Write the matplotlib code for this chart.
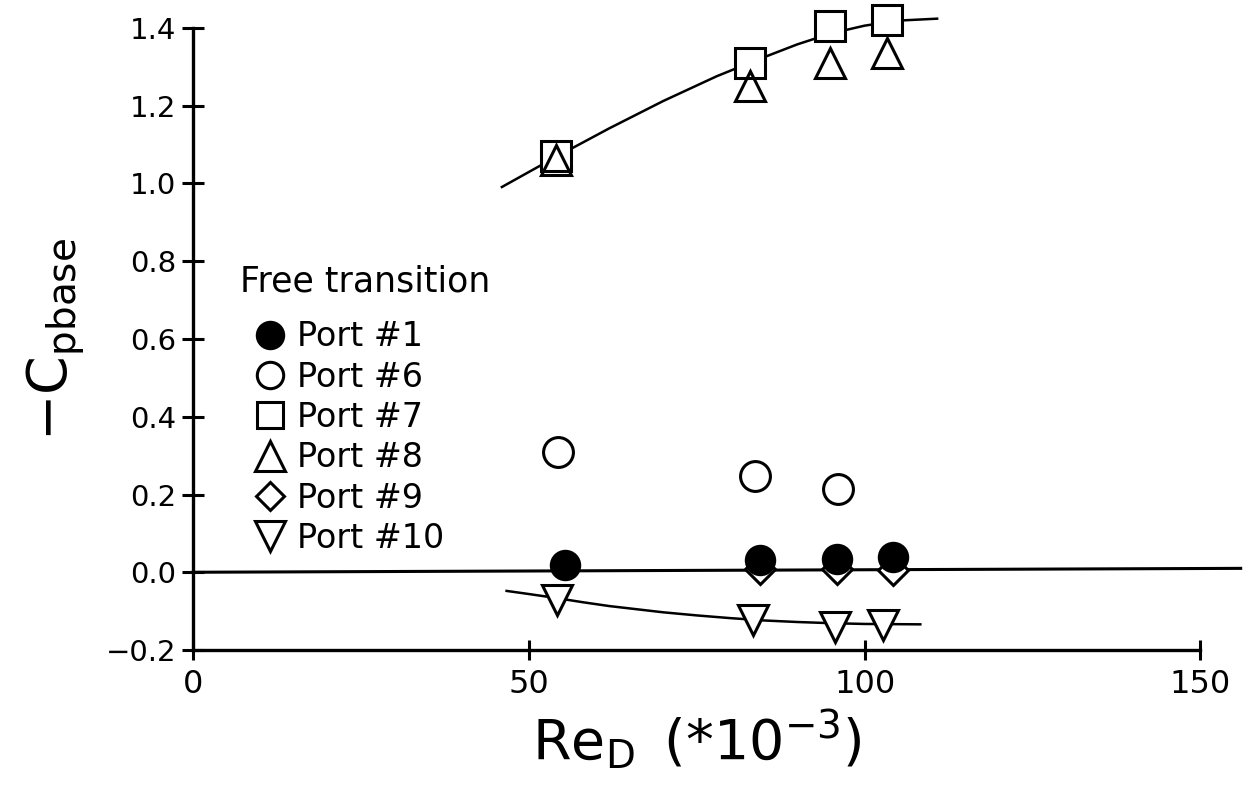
import numpy as np
import matplotlib
matplotlib.use('agg')
import matplotlib.pyplot as plt
from matplotlib.lines import Line2D

## Data (Re_D * 1e-3, -Cp_base)
port1_x = [55.4, 84.5, 95.9, 104.3]
port1_y = [0.018, 0.031, 0.035, 0.039]
port6_x = [54.3, 83.7, 96.1]
port6_y = [0.309, 0.247, 0.213]
port7_x = [54.1, 82.9, 94.8, 103.4]
port7_y = [1.07, 1.31, 1.405, 1.42]
port8_x = [54.1, 82.9, 94.8, 103.4]
port8_y = [1.06, 1.25, 1.31, 1.335]
port9_x = [84.5, 95.9, 104.3]
port9_y = [0.008, 0.008, 0.006]
port10_x = [54.2, 83.4, 95.6, 102.8]
port10_y = [-0.072, -0.123, -0.141, -0.136]

# fitted curves
fit_upper_x = [46.0, 54.0, 62.0, 70.0, 78.0, 84.0, 90.0, 95.0, 100.0, 105.0, 110.8]
fit_upper_y = [0.991, 1.068, 1.142, 1.212, 1.276, 1.318, 1.358, 1.386, 1.406, 1.419, 1.424]
fit_lower_x = [46.7, 50.0, 54.0, 58.0, 62.0, 66.0, 70.0, 75.0, 80.0, 85.0, 90.0, 95.0, 100.0, 108.3]
fit_lower_y = [-0.048, -0.056, -0.066, -0.077, -0.087, -0.095, -0.103, -0.111, -0.118, -0.124, -0.128, -0.131, -0.133, -0.134]
zero_x = [0, 156]
zero_y = [0.0, 0.01]

leg_labels = ['Port #1', 'Port #6', 'Port #7', 'Port #8', 'Port #9', 'Port #10']

plt.rcParams['font.family'] = 'DejaVu Sans'
plt.rcParams['mathtext.fontset'] = 'dejavusans'

fig = plt.figure(figsize=(12.53, 8), dpi=100)
ax = fig.add_axes([0.154, 0.1875, 0.804, 0.7775])

lw_line = 1.8
ms = 21.5
mew = 2.2

ax.plot(zero_x, zero_y, color='k', lw=2.2, clip_on=False, zorder=2)
ax.plot(fit_upper_x, fit_upper_y, color='k', lw=lw_line, clip_on=False, zorder=2)
ax.plot(fit_lower_x, fit_lower_y, color='k', lw=lw_line, clip_on=False, zorder=2)

ax.plot(port9_x, port9_y, 'D', ms=ms * 0.7, mfc='white', mec='k', mew=mew, clip_on=False, zorder=3)
ax.plot(port1_x, port1_y, 'o', ms=ms * 0.95, mfc='k', mec='k', mew=mew, clip_on=False, zorder=4)
ax.plot(port6_x, port6_y, 'o', ms=ms, mfc='white', mec='k', mew=mew, clip_on=False, zorder=4)
ax.plot(port7_x, port7_y, 's', ms=ms, mfc='white', mec='k', mew=mew, clip_on=False, zorder=4)
ax.plot(port8_x, port8_y, '^', ms=ms, mfc='none', mec='k', mew=mew, clip_on=False, zorder=5)
ax.plot(port10_x, port10_y, 'v', ms=ms, mfc='white', mec='k', mew=mew, clip_on=False, zorder=5)

ax.set_xlim(0, 150)
ax.set_ylim(-0.2, 1.4)
ax.set_xticks([0, 50, 100, 150])
ax.set_yticks(np.arange(-0.2, 1.41, 0.2))
ax.yaxis.set_major_formatter(matplotlib.ticker.FuncFormatter(
    lambda v, p: f'{v:.1f}'.replace('-', '\u2212')))

for s in ['top', 'right']:
    ax.spines[s].set_visible(False)
for s in ['left', 'bottom']:
    ax.spines[s].set_linewidth(2.4)
ax.tick_params(axis='y', direction='inout', length=16, width=2.2, labelsize=21, pad=4)
ax.tick_params(axis='x', direction='inout', length=15, width=2.2, labelsize=23, pad=6)

ax.set_xlabel(r'$\mathrm{Re}_{\mathrm{D}}\ \,(*10^{-3})$', fontsize=40, labelpad=6)
ax.set_ylabel(r'$-\mathrm{C}_{\mathrm{pbase}}$', fontsize=40, labelpad=14)

handles = [
    Line2D([], [], ls='', marker='o', ms=19, mfc='k', mec='k', mew=mew),
    Line2D([], [], ls='', marker='o', ms=19, mfc='white', mec='k', mew=mew),
    Line2D([], [], ls='', marker='s', ms=19, mfc='white', mec='k', mew=mew),
    Line2D([], [], ls='', marker='^', ms=21, mfc='white', mec='k', mew=mew),
    Line2D([], [], ls='', marker='D', ms=14, mfc='white', mec='k', mew=mew),
    Line2D([], [], ls='', marker='v', ms=21, mfc='white', mec='k', mew=mew),
]
leg = ax.legend(handles, leg_labels, loc='upper left',
                bbox_to_anchor=(0.057, 0.53), frameon=False, fontsize=24,
                handlelength=1.15, handletextpad=0.25,
                labelspacing=0.22, borderpad=0, borderaxespad=0)
ax.text(0.047, 0.592, 'Free transition', transform=ax.transAxes,
        fontsize=25, ha='left', va='center')

fig.savefig('out.png', dpi=100)
